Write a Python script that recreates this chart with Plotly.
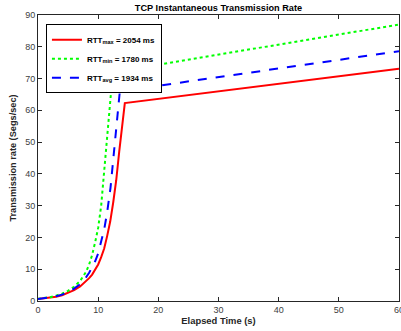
import plotly.graph_objects as go

# Data
red_t = [0, 1, 2, 3, 4, 5, 6, 7, 8, 8.5, 9, 9.5, 10, 10.5, 11, 11.5, 12, 12.5, 13, 13.5, 14, 14.43, 60]
red_r = [0.6, 0.8, 1.0, 1.35, 1.8, 2.5, 3.4, 4.6, 6.2, 7.2, 8.3, 9.8, 11.5, 13.8, 16.5, 20.5, 25, 31, 38, 47, 55, 62.3, 73.1]

green_t = [0, 1, 2, 3, 4, 5, 6, 7, 7.5, 8, 8.5, 9, 9.5, 10, 10.5, 10.77, 11.6, 12.43, 60]
green_r = [0.7, 0.9, 1.2, 1.7, 2.3, 3.2, 4.5, 6.3, 7.6, 9.2, 11.5, 14.5, 18.5, 23, 30, 35.6, 53.8, 72, 87]

blue_t = [0, 1, 2, 3, 4, 5, 6, 7, 7.5, 8, 8.5, 9, 9.5, 10, 10.5, 11, 11.5, 12.05, 12.77, 13.6, 60]
blue_r = [0.65, 0.85, 1.1, 1.5, 2.0, 2.8, 3.9, 5.3, 6.3, 7.5, 8.9, 10.5, 12.5, 15, 18.5, 22.5, 28, 35.6, 49.7, 66, 78.6]

names = ["<b>RTT<sub>max</sub> = 2054 ms</b>",
         "<b>RTT<sub>min</sub> = 1780 ms</b>",
         "<b>RTT<sub>avg</sub> = 1934 ms</b>"]

x_ticks = [0, 10, 20, 30, 40, 50, 60]
y_ticks = [0, 10, 20, 30, 40, 50, 60, 70, 80, 90]

FONT = "Liberation Sans, Arial, Helvetica, sans-serif"

fig = go.Figure()
fig.add_trace(go.Scatter(x=red_t, y=red_r, mode="lines", name=names[0],
                         line=dict(color="#ff0000", width=2)))
fig.add_trace(go.Scatter(x=green_t, y=green_r, mode="lines", name=names[1],
                         line=dict(color="#00ff00", width=2, dash="dot")))
fig.add_trace(go.Scatter(x=blue_t, y=blue_r, mode="lines", name=names[2],
                         line=dict(color="#0000ff", width=2, dash="dash")))

axis_common = dict(showgrid=False, zeroline=False, showline=True, linecolor="#262626",
                   linewidth=1, mirror="allticks", ticks="inside", ticklen=4,
                   tickcolor="#262626", automargin=False, ticklabeloverflow="allow",
                   tickfont=dict(family=FONT, size=9, color="#404040"))

fig.update_layout(
    width=401, height=331,
    margin=dict(l=38, r=2, t=15, b=30, autoexpand=False),
    paper_bgcolor="white", plot_bgcolor="white",
    title=dict(text="<b>TCP Instantaneous Transmission Rate</b>",
               font=dict(family=FONT, size=9.2, color="#000000"),
               x=0.5, xanchor="center", xref="paper", y=0.985, yanchor="top"),
    xaxis=dict(range=[0, 60], tickvals=x_ticks, **axis_common,
               title=dict(text="<b>Elapsed Time (s)</b>", standoff=3,
                          font=dict(family=FONT, size=9.4, color="#262626"))),
    yaxis=dict(range=[0, 90], tickvals=y_ticks, **axis_common,
               title=dict(text="<b>Transmission rate (Segs/sec)</b>", standoff=6,
                          font=dict(family=FONT, size=9.2, color="#262626"))),
    legend=dict(x=0.022, y=0.968, xanchor="left", yanchor="top",
                bgcolor="white", bordercolor="#000000", borderwidth=1,
                font=dict(family=FONT, size=8, color="#000000"),
                tracegroupgap=0, itemwidth=30),
    showlegend=True,
)

fig.write_html("out.html", config={"displayModeBar": False},
               post_script="document.body.style.margin='0';document.body.style.overflow='hidden';")
